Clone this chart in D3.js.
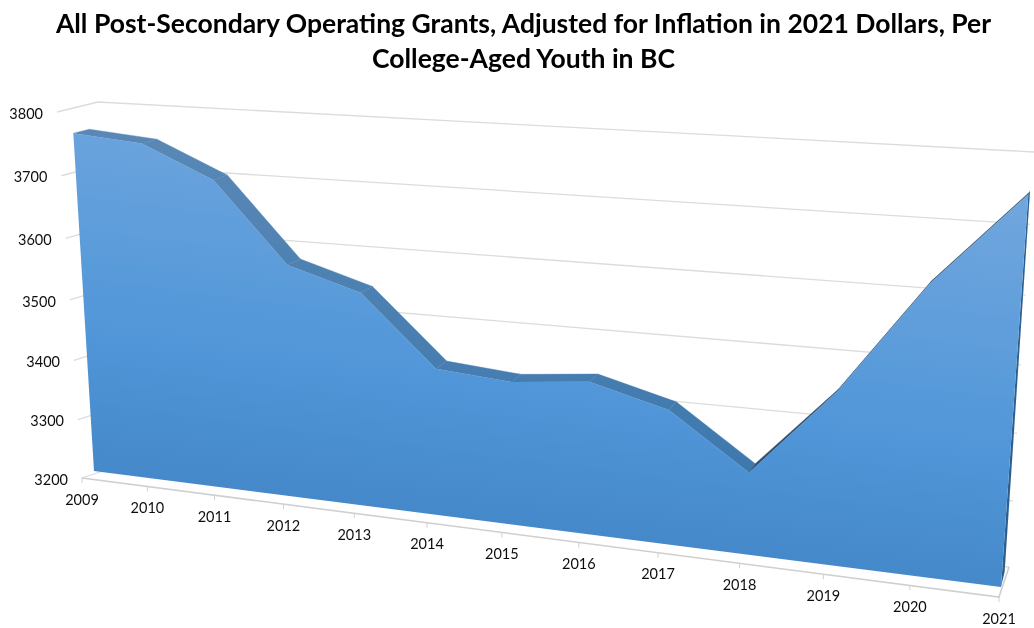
<!DOCTYPE html>
<html><head><meta charset="utf-8">
<script src="https://cdn.jsdelivr.net/npm/d3@7"></script>
<style>html,body{margin:0;background:#fff}svg{display:block}text{font-family:Lato,"Open Sans",sans-serif}</style>
</head><body><svg id="c" width="1034" height="628"></svg>
<script>
const years=[2009,2010,2011,2012,2013,2014,2015,2016,2017,2018,2019,2020,2021];
const grants=[3766,3757,3707,3581,3547,3438,3429,3442,3411,3328,3464,3634,3767];
const valueTicks=[3200,3300,3400,3500,3600,3700,3800];
const titleLines=["All Post-Secondary Operating Grants, Adjusted for Inflation in 2021 Dollars, Per","College-Aged Youth in BC"];

const svg=d3.select("#c");
const u=d3.scaleLinear().domain([2009,2021]).range([0,1]);
const v=d3.scaleLinear().domain([3200,3800]).range([0,1]);

// perspective plane: corners BL, BR, TR, TL
function plane(q){
  const [[x0,y0],[x1,y1],[x2,y2],[x3,y3]]=q;
  const dx1=x1-x2,dx2=x3-x2,sx=x0-x1+x2-x3,dy1=y1-y2,dy2=y3-y2,sy=y0-y1+y2-y3;
  const den=dx1*dy2-dx2*dy1,g=(sx*dy2-dx2*sy)/den,h=(dx1*sy-sx*dy1)/den;
  const a=x1*(1+g)-x0,b=x3*(1+h)-x0,d=y1*(1+g)-y0,e=y3*(1+h)-y0;
  return (year,val)=>{const s=u(year),t=v(val),w=1+g*s+h*t;return [(x0+a*s+b*t)/w,(y0+d*s+e*t)/w];};
}
const areaFront=plane([[94,471],[1001,587],[1030,170],[72,112]]);
const boxFront=plane([[82,478],[999,597],[1029,167],[57,112]]);
const boxBack=plane([[118,466],[1009,567],[1034,152],[98,102]]);
const vp=[1180,-150],depth=0.0145;
const toBack=(p,f=1)=>[p[0]+f*depth*(vp[0]-p[0]),p[1]+f*depth*(vp[1]-p[1])];
const line=d3.line();

const defs=svg.append("defs");
function grad(id,stops,c){
  const g=defs.append("linearGradient").attr("id",id).attr("gradientUnits","userSpaceOnUse")
    .attr("x1",c[0]).attr("y1",c[1]).attr("x2",c[2]).attr("y2",c[3]);
  stops.forEach(s=>g.append("stop").attr("offset",s[0]).attr("stop-color",s[1]));
}
grad("face",[[0,"#72a7de"],[0.55,"#5297d9"],[1,"#3f83c3"]],[590,130,530,590]);
grad("top",[[0,"#5a88b6"],[1,"#3d78ad"]],[0,130,0,480]);
defs.append("filter").attr("id","soft").append("feGaussianBlur").attr("stdDeviation",0.45);

const root=svg.append("g").attr("filter","url(#soft)");

// title
root.selectAll("text.title").data(titleLines).join("text").attr("class","title")
  .attr("x",523.5).attr("y",(d,i)=>33+i*34.5).attr("text-anchor","middle")
  .attr("font-size",26.5).attr("font-weight",700).attr("fill","#000").text(d=>d);

// grid
root.selectAll("path.grid").data(valueTicks).join("path").attr("class","grid")
  .attr("d",d=>line([boxFront(2009,d),boxBack(2009,d),boxBack(2021,d)]))
  .attr("fill","none").attr("stroke","#dcdcdc").attr("stroke-width",1.3);
// floor
root.append("path").attr("d",line([boxFront(2009,3200),boxFront(2021,3200),boxBack(2021,3200)]))
  .attr("fill","none").attr("stroke","#cfcfcf").attr("stroke-width",1.6);
root.selectAll("path.xt").data(years).join("path").attr("class","xt")
  .attr("d",d=>{const p=boxFront(d,3200);return line([p,[p[0],p[1]+5]]);})
  .attr("stroke","#d0d0d0").attr("stroke-width",1);

// value labels
root.selectAll("text.yl").data(valueTicks).join("text").attr("class","yl")
  .attr("x",d=>boxFront(2009,d)[0]-14).attr("y",d=>boxFront(2009,d)[1]+3)
  .attr("text-anchor","end").attr("dominant-baseline","middle")
  .attr("font-size",14.5).attr("fill","#111").text(d=>d);
// year labels
root.selectAll("text.xl").data(years).join("text").attr("class","xl")
  .attr("x",d=>boxFront(d,3200)[0]).attr("y",d=>boxFront(d,3200)[1]+23)
  .attr("text-anchor","middle").attr("dominant-baseline","middle")
  .attr("font-size",14.5).attr("fill","#111").text(d=>d);

// 3D area
const pts=years.map((y,i)=>areaFront(y,grants[i]));
const base0=areaFront(2009,3200),base1=areaFront(2021,3200);
// top surface: broad while falling, a sliver while rising
const segs=d3.pairs(pts).map(([a,b],i)=>{
  const rising=grants[i+1]>grants[i];
  const fa=i>9?0.35:1, fb=i+1>9?0.35:1;
  return {poly:[a,b,toBack(b,fb),toBack(a,fa)],rising:i>=9&&rising};
});
root.selectAll("path.seg").data(segs).join("path").attr("class","seg")
  .attr("d",d=>line(d.poly)+"Z")
  .attr("fill",d=>d.rising?"#33506e":"url(#top)").attr("stroke",d=>d.rising?"#33506e":"url(#top)").attr("stroke-width",0.4);
// right side
root.append("path").attr("d",line([pts[12],toBack(pts[12],0.8),toBack(base1,1.4),base1])+"Z").attr("fill","#2b5f8e");
// front
root.append("path").attr("d",line([base0,...pts,base1])+"Z").attr("fill","url(#face)");
</script></body></html>
